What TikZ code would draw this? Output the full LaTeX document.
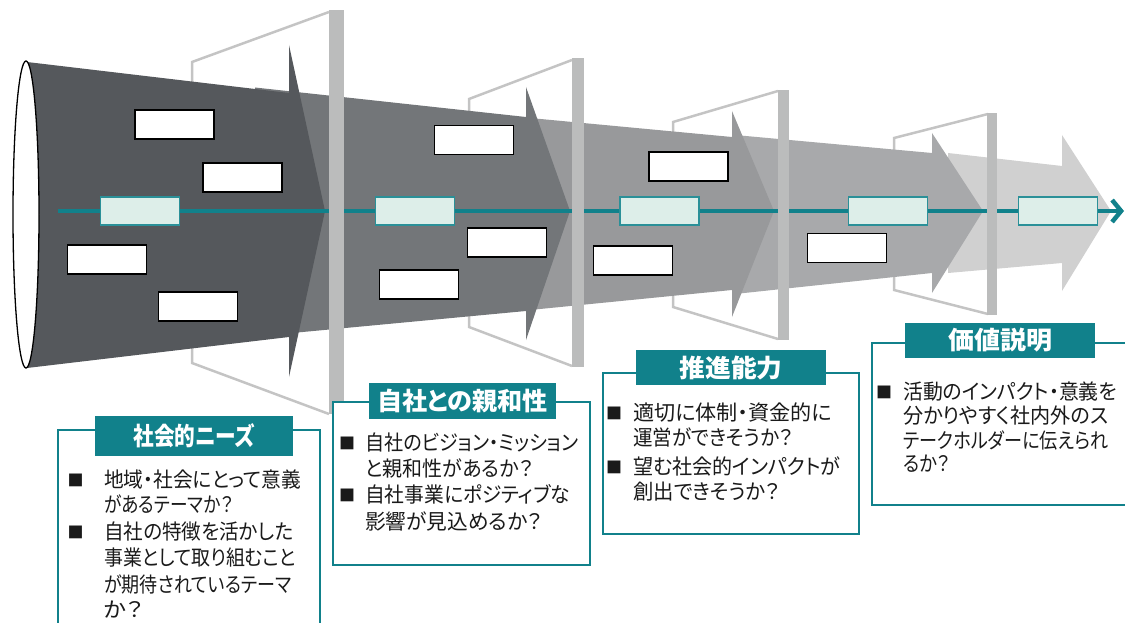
\documentclass[tikz,border=0pt]{standalone}
\usepackage{fontspec}
\newfontfamily\jp{Noto Sans CJK JP}[RawFeature=+palt]
\usetikzlibrary{arrows.meta}
\definecolor{segA}{HTML}{55585C}
\definecolor{segB}{HTML}{737679}
\definecolor{segC}{HTML}{98999B}
\definecolor{segD}{HTML}{A8A9AB}
\definecolor{segE}{HTML}{D0D0D0}
\definecolor{barc}{HTML}{BBBCBC}
\definecolor{gatec}{HTML}{C4C4C4}
\definecolor{tealc}{HTML}{11818B}
\definecolor{lteal}{HTML}{DDEEE9}
\definecolor{ltealb}{HTML}{2A9098}
\definecolor{txtc}{HTML}{1A1A1A}
\newcommand\jline[5]{\node[bodytxt] (#1) at (#2,#3) {\resizebox{#4pt}{\height}{#5}};}
\newcommand\jbul[3]{\node[bulmark] (#1) at (#2,#3) {■};}
\newcommand\jtitle[6]{\node[banner, minimum width=#4pt, minimum height=#5pt] (#1) at (#2,#3) {#6};}
\begin{document}
\begin{tikzpicture}[x=1pt,y=-1pt,
  gateline/.style={draw=gatec, line width=2.5pt, line join=miter},
  barfill/.style={fill=barc},
  wbox/.style={draw=black, fill=white, line width=1.3pt, minimum width=79pt, minimum height=29pt, inner sep=0},
  tbox/.style={draw=ltealb, fill=lteal, line width=1.3pt, minimum width=79pt, minimum height=28pt, inner sep=0},
  tealline/.style={draw=tealc, line width=4.5pt},
  infobox/.style={draw=tealc, fill=white, line width=2.5pt},
  banner/.style={fill=tealc, text=white, inner sep=0, font=\jp\bfseries\fontsize{25}{28}\selectfont},
  bodytxt/.style={anchor=base west, inner sep=0, text=txtc, font=\jp\fontsize{21}{24}\selectfont},
  bulmark/.style={anchor=center, inner sep=0, text=txtc, font=\jp\fontsize{16}{18}\selectfont}
]
\useasboundingbox (0,0) rectangle (1125,623);
% gate outlines (behind)
\draw[gateline] (329,12) -- (192,62) -- (192,363) -- (329,414);
\draw[gateline] (572,60) -- (469,99) -- (469,327) -- (572,366);
\draw[gateline] (778,91) -- (673,122) -- (673,307) -- (778,339);
\draw[gateline] (988,114) -- (894,138) -- (894,290) -- (988,314);
% segments
\fill[segE] (948,153) -- (1062,166) -- (1062,135) -- (1111,211) -- (1062,291) -- (1062,263) -- (948,273) -- cycle;
\fill[segD] (735,135) -- (932,153) -- (932,133) -- (983,211) -- (932,293) -- (932,273) -- (735,294) -- cycle;
\fill[segC] (530,118) -- (732,137) -- (732,111) -- (774,211) -- (732,317) -- (732,290) -- (530,310) -- cycle;
\fill[segB] (255,87.5) -- (526,117) -- (526,87) -- (570,211) -- (526,340) -- (526,311) -- (255,336.5) -- cycle;
\fill[segA] (27,62) -- (289,93) -- (289,45) -- (325,211) -- (289,377) -- (289,337) -- (27,368) -- cycle;
\draw[black, fill=white, line width=1.3pt] (26,214.5) ellipse [x radius=13, y radius=153.5];
% white boxes
\node[wbox] (w1) at (174.5,124.5) {};
\node[wbox] (w2) at (242.5,177.5) {};
\node[wbox] (w3) at (107,259.5) {};
\node[wbox] (w4) at (198,306.5) {};
\node[wbox] (w5) at (474,140) {};
\node[wbox] (w6) at (507,242.5) {};
\node[wbox] (w7) at (419,284.5) {};
\node[wbox] (w8) at (688.5,166.5) {};
\node[wbox] (w9) at (633,260.5) {};
\node[wbox] (w10) at (847,248) {};
% teal line
\coordinate (lstart) at (58,211);
\coordinate (lend) at (1124,211);
\draw[tealline, -{Straight Barb[length=9pt,width=22pt]}] (lstart) -- (lend);
\node[tbox] (t1) at (140,211) {};
\node[tbox] (t2) at (415,211) {};
\node[tbox] (t3) at (659.5,211) {};
\node[tbox] (t4) at (888,211) {};
\node[tbox] (t5) at (1058,211) {};
% gate bars
\fill[barfill] (329,10) rectangle (344,414);
\fill[barfill] (572,58) rectangle (584,367);
\fill[barfill] (778,90) rectangle (789,340);
\fill[barfill] (987,113) rectangle (997,315);
% info boxes
\draw[infobox] (58,640) -- (58,430) -- (320,430) -- (320,640);
\draw[infobox] (333,402) rectangle (590,565);
\draw[infobox] (603,373) rectangle (859,534);
\draw[infobox] (1140,343) -- (872,343) -- (872,505) -- (1140,505);
\jtitle{bA}{194}{436}{198}{40}{\resizebox{121pt}{\height}{社会的ニーズ}}
\jtitle{bB}{462.5}{401}{187}{36}{\resizebox{171pt}{\height}{自社との親和性}}
\jtitle{bC}{731}{367.5}{190}{35}{\resizebox{103pt}{\height}{推進能力}}
\jtitle{bD}{1000}{340.5}{190}{35}{\resizebox{104pt}{\height}{価値説明}}
% box A text
\jbul{mA1}{75.5}{480}
\jline{xA1}{104}{487.5}{197}{地域・社会にとって意義}
\jline{xA2}{104}{512.5}{129}{があるテーマか？}
\jbul{mA2}{75.5}{532}
\jline{xA3}{104}{539.5}{189}{自社の特徴を活かした}
\jline{xA4}{104}{565.5}{192}{事業として取り組むこと}
\jline{xA5}{104}{592.5}{187}{が期待されているテーマ}
\jline{xA6}{104}{617.5}{39}{か？}
% box B text
\jbul{mB1}{347}{443}
\jline{xB1}{365}{450.5}{213}{自社のビジョン・ミッション}
\jline{xB2}{365}{476.5}{168}{と親和性があるか？}
\jbul{mB2}{347}{495}
\jline{xB3}{365}{502.5}{205}{自社事業にポジティブな}
\jline{xB4}{365}{529.5}{177}{影響が見込めるか？}
% box C text
\jbul{mC1}{614}{413}
\jline{xC1}{633}{420.5}{199}{適切に体制・資金的に}
\jline{xC2}{633}{445.5}{160}{運営ができそうか？}
\jbul{mC2}{614}{467}
\jline{xC3}{633}{474.5}{207}{望む社会的インパクトが}
\jline{xC4}{633}{499.5}{147}{創出できそうか？}
% box D text
\jbul{mD1}{884}{392}
\jline{xD1}{903}{399.5}{214}{活動のインパクト・意義を}
\jline{xD2}{903}{423.5}{205}{分かりやすく社内外のス}
\jline{xD3}{903}{448.5}{205}{テークホルダーに伝えられ}
\jline{xD4}{903}{471.5}{47}{るか？}
\end{tikzpicture}
\end{document}
